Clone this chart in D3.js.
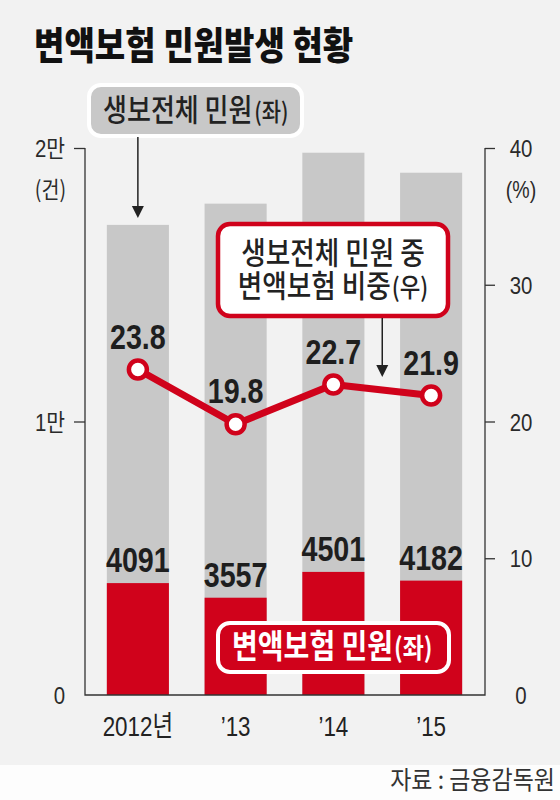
<!DOCTYPE html>
<html>
<head>
<meta charset="utf-8">
<script src="https://cdn.jsdelivr.net/npm/d3@7"></script>
<style>
  body { margin: 0; background: #fff; }
  svg { display: block; }
</style>
</head>
<body>
<div id="chart"></div>
<script>
// data
const years = ["2012년", "’13", "’14", "’15"];
const lifeTotal = [17189, 17965, 19828, 19096];     // 생보전체 민원 (건)
const variableCount = [4091, 3557, 4501, 4182];     // 변액보험 민원 (건)
const variableShare = [23.8, 19.8, 22.7, 21.9];     // 비중 (%)
const leftTicks = [0, 10000, 20000];
const leftTickLabels = ["0", "1만", "2만"];
const rightTicks = [0, 10, 20, 30, 40];

const width = 560, height = 800;
const RED = "#d0021b", GRAY = "#c8c8c8", INK = "#1e1e1e";
const NUM = "'Liberation Sans', Arial, 'Noto Sans CJK KR', sans-serif";
const KR = "'Noto Sans CJK KR', 'Noto Sans', sans-serif";

const plot = { left: 85, right: 485, top: 148, bottom: 695 };

// squeeze text horizontally, keeping its anchor point where it was
function squeeze(sel, k) {
  sel.each(function() {
    const t = d3.select(this);
    const x = +t.attr("x") || 0;
    t.attr("x", x / k).attr("transform", `scale(${k},1)`);
  });
  return sel;
}

const svg = d3.select("#chart").append("svg")
  .attr("width", width)
  .attr("height", height);

svg.append("rect").attr("width", width).attr("height", 765).attr("fill", "#f2f2f2");
svg.append("rect").attr("y", 765).attr("width", width).attr("height", height - 765).attr("fill", "#fdfdfd");

// title
svg.append("text")
  .attr("x", 34).attr("y", 59)
  .attr("font-family", KR).attr("font-weight", 900).attr("font-size", 38)
  .attr("fill", "#111")
  .text("변액보험 민원발생 현황")
  .call(squeeze, 0.87);

// scales
const x = d3.scaleBand()
  .domain(years)
  .range([89, 480])
  .paddingInner(0.365)
  .paddingOuter(0.1825);

const yL = d3.scaleLinear().domain([0, 20000]).range([plot.bottom, plot.top]);
const yR = d3.scaleLinear().domain([0, 40]).range([plot.bottom, plot.top]);
const cx = d => x(d) + x.bandwidth() / 2;

const g = svg.append("g");

// bars
g.selectAll(".total").data(years).join("rect")
  .attr("class", "total")
  .attr("x", d => x(d))
  .attr("width", x.bandwidth())
  .attr("y", (d, i) => yL(lifeTotal[i]))
  .attr("height", (d, i) => yL(0) - yL(lifeTotal[i]))
  .attr("fill", GRAY);

g.selectAll(".variable").data(years).join("rect")
  .attr("class", "variable")
  .attr("x", d => x(d))
  .attr("width", x.bandwidth())
  .attr("y", (d, i) => yL(variableCount[i]))
  .attr("height", (d, i) => yL(0) - yL(variableCount[i]))
  .attr("fill", RED);

g.selectAll(".count-label").data(years).join("text")
  .attr("class", "count-label")
  .attr("x", d => cx(d))
  .attr("y", (d, i) => yL(variableCount[i]) - 11)
  .attr("text-anchor", "middle")
  .attr("font-family", NUM).attr("font-weight", 700).attr("font-size", 35)
  .attr("fill", INK)
  .text((d, i) => variableCount[i])
  .call(squeeze, 0.82);

// frame + axes
g.append("path")
  .attr("d", `M${plot.left},${plot.top}V${plot.bottom}H${plot.right}V${plot.top}`)
  .attr("fill", "none").attr("stroke", "#333").attr("stroke-width", 1.3);

const axL = g.append("g")
  .attr("transform", `translate(${plot.left},0)`)
  .call(d3.axisLeft(yL).tickValues(leftTicks).tickSize(11).tickPadding(9)
    .tickFormat((d, i) => leftTickLabels[i]));

const axR = g.append("g")
  .attr("transform", `translate(${plot.right},0)`)
  .call(d3.axisRight(yR).tickValues(rightTicks).tickSize(10).tickPadding(14));

[axL, axR].forEach(ax => {
  ax.select(".domain").remove();
  ax.selectAll(".tick line").attr("stroke", "#333").attr("stroke-width", 1.3)
    .filter(d => d === 0).remove();
  ax.selectAll(".tick text")
    .attr("font-family", NUM).attr("font-size", 24).attr("fill", "#2a2a2a")
    .attr("dy", "0.36em");
});
axR.selectAll(".tick text").attr("text-anchor", "middle").attr("x", 36);
axL.selectAll(".tick text").call(squeeze, 0.85);
axR.selectAll(".tick text").call(squeeze, 0.85);

g.append("text")
  .attr("x", 66).attr("y", 198)
  .attr("text-anchor", "end")
  .attr("font-family", KR).attr("font-size", 23).attr("fill", "#2a2a2a")
  .text("(건)")
  .call(squeeze, 0.85);

g.append("text")
  .attr("x", 521).attr("y", 198)
  .attr("text-anchor", "middle")
  .attr("font-family", NUM).attr("font-size", 23).attr("fill", "#2a2a2a")
  .text("(%)")
  .call(squeeze, 0.85);

// x labels
g.selectAll(".year").data(years).join("text")
  .attr("class", "year")
  .attr("x", d => cx(d))
  .attr("y", 736)
  .attr("text-anchor", "middle")
  .attr("font-family", NUM).attr("font-size", 28).attr("fill", "#222")
  .text(d => d)
  .call(squeeze, 0.8);

// share line
const line = d3.line()
  .x((d, i) => cx(years[i]))
  .y(d => yR(d));

g.append("path")
  .datum(variableShare)
  .attr("d", line)
  .attr("fill", "none")
  .attr("stroke", RED)
  .attr("stroke-width", 7)
  .attr("stroke-linejoin", "round");

g.selectAll(".dot").data(variableShare).join("circle")
  .attr("class", "dot")
  .attr("cx", (d, i) => cx(years[i]))
  .attr("cy", d => yR(d))
  .attr("r", 9)
  .attr("fill", "#fff")
  .attr("stroke", RED)
  .attr("stroke-width", 4.5);

g.selectAll(".share-label").data(variableShare).join("text")
  .attr("class", "share-label")
  .attr("x", (d, i) => cx(years[i]))
  .attr("y", d => yR(d) - 21)
  .attr("text-anchor", "middle")
  .attr("font-family", NUM).attr("font-weight", 700).attr("font-size", 35)
  .attr("fill", INK)
  .text(d => d.toFixed(1))
  .call(squeeze, 0.82);

// legend: 생보전체 민원 (gray box + arrow)
function arrow(xp, y0, y1) {
  g.append("line")
    .attr("x1", xp).attr("x2", xp).attr("y1", y0).attr("y2", y1 - 11)
    .attr("stroke", "#222").attr("stroke-width", 1.5);
  g.append("path")
    .attr("d", `M${xp - 6},${y1 - 12}L${xp + 6},${y1 - 12}L${xp},${y1}Z`)
    .attr("fill", "#222");
}

g.append("rect")
  .attr("x", 89).attr("y", 85).attr("width", 213).attr("height", 51).attr("rx", 12)
  .attr("fill", GRAY).attr("stroke", "#fff").attr("stroke-width", 4);
const t1 = g.append("text")
  .attr("x", 103).attr("y", 121)
  .attr("font-family", KR).attr("font-weight", 500).attr("font-size", 31)
  .attr("fill", "#222");
t1.append("tspan").text("생보전체 민원");
t1.append("tspan").attr("font-size", 25).attr("dx", 2).text("(좌)");
squeeze(t1, 0.84);
arrow(cx(years[0]), 137, yL(lifeTotal[0]) - 7);

// legend: 변액보험 비중 (red outline box + arrow), two lines in one text
g.append("rect")
  .attr("x", 218).attr("y", 224).attr("width", 230).attr("height", 92).attr("rx", 12)
  .attr("fill", "#fff").attr("stroke", RED).attr("stroke-width", 4.5);
const k2 = 0.86;
const t2 = g.append("text")
  .attr("transform", `scale(${k2},1)`)
  .attr("text-anchor", "middle")
  .attr("font-family", KR).attr("font-weight", 500).attr("font-size", 31)
  .attr("fill", "#222");
t2.append("tspan").attr("x", 333 / k2).attr("y", 264).text("생보전체 민원 중");
const l2 = t2.append("tspan").attr("x", 333 / k2).attr("y", 297);
l2.append("tspan").text("변액보험 비중");
l2.append("tspan").attr("font-size", 26).attr("dx", 1).text("(우)");
arrow((x(years[2]) + x.bandwidth() + x(years[3])) / 2, 318, 377);

// legend: 변액보험 민원 (red box)
g.append("rect")
  .attr("x", 218).attr("y", 623).attr("width", 231).attr("height", 49).attr("rx", 12)
  .attr("fill", RED).attr("stroke", "#fff").attr("stroke-width", 4);
const t4 = g.append("text")
  .attr("x", 232).attr("y", 658)
  .attr("font-family", KR).attr("font-weight", 700).attr("font-size", 33)
  .attr("fill", "#fff");
t4.append("tspan").text("변액보험 민원");
t4.append("tspan").attr("font-size", 27).attr("dx", 1).text("(좌)");
squeeze(t4, 0.85);

// source
svg.append("text")
  .attr("x", 555).attr("y", 789)
  .attr("text-anchor", "end")
  .attr("font-family", KR).attr("font-size", 25).attr("fill", "#333")
  .text("자료 : 금융감독원")
  .call(squeeze, 0.92);
</script>
</body>
</html>
